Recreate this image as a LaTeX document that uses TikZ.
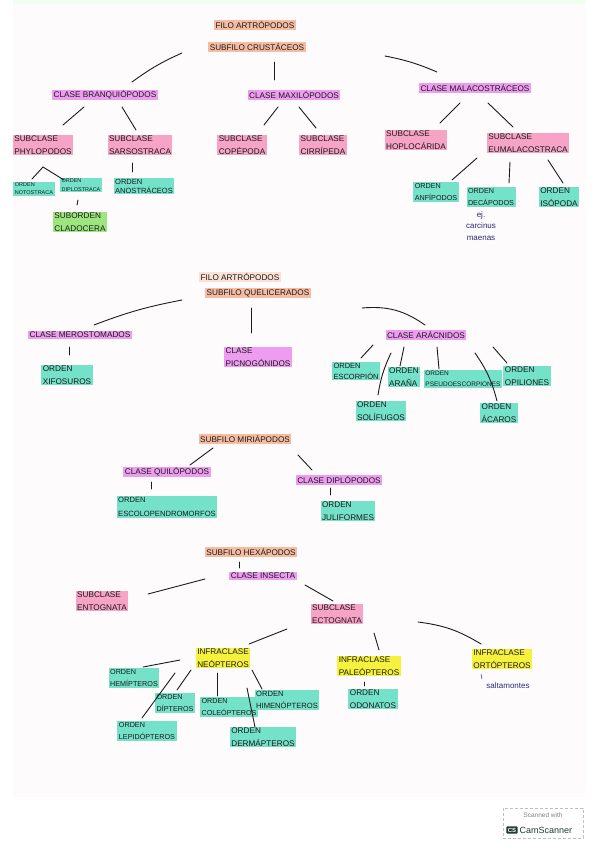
\documentclass[tikz,border=0pt]{standalone}
\usepackage{fontspec}
\setmainfont{Liberation Sans}
\usetikzlibrary{positioning,calc}
\definecolor{filo}{HTML}{F6BCA2}
\definecolor{clase}{HTML}{EE9CF0}
\definecolor{subclase}{HTML}{F7A3C6}
\definecolor{orden}{HTML}{74E2C8}
\definecolor{suborden}{HTML}{9DE67F}
\definecolor{infra}{HTML}{F5F13C}
\definecolor{tinta}{HTML}{1B1B1B}
\definecolor{boli}{HTML}{2A2A78}
\definecolor{papel}{HTML}{FEFBFC}
\definecolor{csgreen}{HTML}{1F3B33}

\tikzset{
  taxon/.style={font=\fontsize{8.2}{12.5}\selectfont, text=tinta, inner xsep=1.5pt, inner ysep=1pt, align=left},
  chica/.style={font=\fontsize{7.2}{12}\selectfont},
  filobox/.style={taxon, fill=filo},
  filolight/.style={taxon, fill=filo!45},
  clasebox/.style={taxon, fill=clase},
  subclasebox/.style={taxon, fill=subclase},
  ordenbox/.style={taxon, fill=orden},
  subordenbox/.style={taxon, fill=suborden},
  infrabox/.style={taxon, fill=infra},
  nota/.style={font=\fontsize{8}{11.5}\selectfont, text=boli, align=center, inner sep=0pt},
  rama/.style={draw=tinta, line width=0.9pt, line cap=round},
}

\begin{document}
\begin{tikzpicture}[x=1pt, y=-1pt]
  \useasboundingbox (0,0) rectangle (599,848);
  \fill[papel] (13,0) rectangle (586,797);
  \fill[green!6] (13,0) rectangle (586,4);

  % --- crustaceos ---
  \node[filobox] (filoA) at (255,25) {FILO ARTRÓPODOS};
  \node[filobox] (crust) at (257,47) {SUBFILO CRUSTÁCEOS};
  \node[clasebox] (branq) at (105,95) {CLASE BRANQUIÓPODOS};
  \node[clasebox] (maxil) at (294,95) {CLASE MAXILÓPODOS};
  \node[clasebox] (malac) at (475,88) {CLASE MALACOSTRÁCEOS};
  \node[subclasebox] (phylo) at (43,145) {SUBCLASE\\PHYLOPODOS};
  \node[subclasebox] (sarso) at (140,145) {SUBCLASE\\SARSOSTRACA};
  \node[subclasebox] (cope) at (242,145) {SUBCLASE\\COPÉPODA};
  \node[subclasebox] (cirri) at (323,145) {SUBCLASE\\CIRRÍPEDA};
  \node[subclasebox] (hoplo) at (416,140) {SUBCLASE\\HOPLOCÁRIDA};
  \node[subclasebox] (euma) at (528,143) {SUBCLASE\\EUMALACOSTRACA};
  \node[ordenbox, font=\fontsize{5.5}{8}\selectfont] (noto) at (34,189) {ORDEN\\NOTOSTRACA};
  \node[ordenbox, font=\fontsize{5.5}{9}\selectfont] (diplo) at (81,185) {ORDEN\\DIPLOSTRACA};
  \node[subordenbox] (clado) at (80,222) {SUBORDEN\\CLADOCERA};
  \node[ordenbox, font=\fontsize{7.5}{9}\selectfont] (anos) at (144,186) {ORDEN\\ANOSTRÁCEOS};
  \node[ordenbox, chica] (anfi) at (436,192) {ORDEN\\ANFÍPODOS};
  \node[ordenbox, chica] (deca) at (491,197) {ORDEN\\DECÁPODOS};
  \node[ordenbox] (iso) at (559,197) {ORDEN\\ISÓPODA};
  \node[nota] (ejemplo) at (481,226) {ej.\\carcinus\\maenas};

  \draw[rama] ($(crust)+(-75,6)$) to[bend right=6] ($(branq)+(27,-13)$);
  \draw[rama] ($(crust)+(17,15)$) -- ($(maxil)+(-20,-15)$);
  \draw[rama] ($(crust)+(128,9)$) to[bend left=6] ($(malac)+(-38,-16)$);
  \draw[rama] ($(branq)+(-21,12)$) -- ($(phylo)+(20,-20)$);
  \draw[rama] ($(branq)+(17,12)$) -- ($(sarso)+(-4,-15)$);
  \draw[rama] ($(maxil)+(-16,12)$) -- ($(cope)+(22,-20)$);
  \draw[rama] ($(maxil)+(5,12)$) -- ($(cirri)+(-7,-17)$);
  \draw[rama] ($(malac)+(-15,15)$) -- ($(hoplo)+(24,-17)$);
  \draw[rama] ($(malac)+(13,15)$) -- ($(euma)+(-15,-16)$);
  \draw[rama] ($(noto)+(-2,-10)$) -- ($(phylo)+(0,22)$) -- ($(diplo)+(-17,-5)$);
  \draw[rama] ($(diplo)+(-3,15)$) -- ($(clado)+(-3,-17)$);
  \draw[rama] ($(sarso)+(-8,18)$) -- ($(anos)+(-12,-14)$);
  \draw[rama] ($(euma)+(-51,15)$) -- ($(anfi)+(16,-12)$);
  \draw[rama] ($(euma)+(-18,19)$) -- ($(deca)+(18,-14)$);
  \draw[rama] ($(euma)+(20,17)$) -- ($(iso)+(4,-14)$);

  % --- quelicerados ---
  \node[filolight] (filoB) at (240,277) {FILO ARTRÓPODOS};
  \node[filobox] (quel) at (258,293) {SUBFILO QUELICERADOS};
  \node[clasebox] (mero) at (80,335) {CLASE MEROSTOMADOS};
  \node[clasebox] (picno) at (258,357) {CLASE\\PICNOGÓNIDOS};
  \node[clasebox] (arac) at (426,335) {CLASE ARÁCNIDOS};
  \node[ordenbox] (xifo) at (67,375) {ORDEN\\XIFOSUROS};
  \node[ordenbox, font=\fontsize{7.5}{11}\selectfont] (escor) at (356,371) {ORDEN\\ESCORPIÓN};
  \node[ordenbox] (arana) at (404,377) {ORDEN\\ARAÑA};
  \node[ordenbox, font=\fontsize{6.5}{11}\selectfont] (pseudo) at (463,379) {ORDEN\\PSEUDOESCORPIONES};
  \node[ordenbox] (opil) at (527,376) {ORDEN\\OPILIONES};
  \node[ordenbox] (soli) at (381,411) {ORDEN\\SOLÍFUGOS};
  \node[ordenbox] (acaro) at (499,413) {ORDEN\\ÁCAROS};

  \draw[rama] ($(quel)+(-76,7)$) to[bend right=5] ($(mero)+(14,-10)$);
  \draw[rama] ($(quel)+(-7,15)$) -- ($(picno)+(-7,-24)$);
  \draw[rama] ($(quel)+(104,15)$) to[bend left=20] ($(arac)+(-1,-10)$);
  \draw[rama] ($(mero)+(-11,12)$) -- ($(xifo)+(2,-20)$);
  \draw[rama] ($(arac)+(-53,10)$) -- ($(escor)+(5,-13)$);
  \draw[rama] ($(arac)+(-22,12)$) -- ($(arana)+(-4,-11)$);
  \draw[rama] ($(arac)+(11,12)$) -- ($(pseudo)+(-24,-10)$);
  \draw[rama] ($(arac)+(67,12)$) -- ($(opil)+(-20,-13)$);
  \draw[rama] ($(arac)+(-35,18)$) to[bend right=8] ($(soli)+(-3,-16)$);
  \draw[rama] ($(arac)+(49,18)$) to[bend left=10] ($(acaro)+(-2,-12)$);

  % --- miriapodos ---
  \node[filobox] (miri) at (245,439) {SUBFILO MIRIÁPODOS};
  \node[clasebox] (quil) at (167,472) {CLASE QUILÓPODOS};
  \node[clasebox] (dipl) at (339,480) {CLASE DIPLÓPODOS};
  \node[ordenbox, font=\fontsize{7.6}{14}\selectfont] (escol) at (167,507) {ORDEN\\ESCOLOPENDROMORFOS};
  \node[ordenbox] (juli) at (348,511) {ORDEN\\JULIFORMES};

  \draw[rama] ($(miri)+(-32,9)$) -- ($(quil)+(23,-7)$);
  \draw[rama] ($(miri)+(53,16)$) -- ($(dipl)+(-27,-10)$);
  \draw[rama] ($(quil)+(-16,10)$) -- ($(escol)+(-16,-18)$);
  \draw[rama] ($(dipl)+(-9,8)$) -- ($(juli)+(-18,-16)$);

  % --- hexapodos ---
  \node[filobox] (hexa) at (251,552) {SUBFILO HEXÁPODOS};
  \node[clasebox] (insecta) at (263,576) {CLASE INSECTA};
  \node[subclasebox] (ento) at (102,601) {SUBCLASE\\ENTOGNATA};
  \node[subclasebox] (ecto) at (337,614) {SUBCLASE\\ECTOGNATA};
  \node[infrabox] (neo) at (223,658) {INFRACLASE\\NEÓPTEROS};
  \node[infrabox] (pale) at (369,666) {INFRACLASE\\PALEÓPTEROS};
  \node[infrabox] (orto) at (502,659) {INFRACLASE\\ORTÓPTEROS};
  \node[nota] (salta) at (508,686) {saltamontes};
  \node[ordenbox, chica] (hemi) at (134,678) {ORDEN\\HEMÍPTEROS};
  \node[ordenbox, chica] (dipt) at (175,703) {ORDEN\\DÍPTEROS};
  \node[ordenbox, chica] (coleo) at (229,707) {ORDEN\\COLEÓPTEROS};
  \node[ordenbox, font=\fontsize{7.6}{12}\selectfont] (himen) at (287,700) {ORDEN\\HIMENÓPTEROS};
  \node[ordenbox, chica] (lepi) at (147,731) {ORDEN\\LEPIDÓPTEROS};
  \node[ordenbox] (derma) at (263,737) {ORDEN\\DERMÁPTEROS};
  \node[ordenbox] (odon) at (373,699) {ORDEN\\ODONATOS};

  \draw[rama] ($(hexa)+(-12,10)$) -- ($(insecta)+(-24,-8)$);
  \draw[rama] ($(insecta)+(-58,3)$) -- ($(ento)+(46,-7)$);
  \draw[rama] ($(insecta)+(42,9)$) -- ($(ecto)+(-4,-13)$);
  \draw[rama] ($(ecto)+(-50,15)$) -- ($(neo)+(26,-14)$);
  \draw[rama] ($(ecto)+(37,19)$) -- ($(pale)+(10,-16)$);
  \draw[rama] ($(ecto)+(81,8)$) to[bend left=12] ($(orto)+(-21,-15)$);
  \draw[rama] ($(neo)+(-43,2)$) -- ($(hemi)+(9,-11)$);
  \draw[rama] ($(neo)+(-32,12)$) -- ($(dipt)+(2,-13)$);
  \draw[rama] ($(neo)+(-6,15)$) -- ($(coleo)+(-12,-11)$);
  \draw[rama] ($(neo)+(29,12)$) -- ($(himen)+(-25,-11)$);
  \draw[rama] ($(neo)+(-48,15)$) -- ($(lepi)+(-5,-13)$);
  \draw[rama] ($(neo)+(24,30)$) -- ($(derma)+(-8,-10)$);
  \draw[rama] ($(pale)+(-5,16)$) -- ($(odon)+(-9,-13)$);
  \draw[boli, line width=0.5pt] ($(orto)+(-21,15)$) -- ($(salta)+(-26,-7)$);

  % --- sello del escaner ---
  \node[draw=gray!50, densely dashed, line width=0.4pt, minimum width=80pt, minimum height=30pt] (sello) at (543,823) {};
  \node[font=\fontsize{6.5}{7}\selectfont, text=gray] (scanned) at (543,815) {Scanned with};
  \node[fill=csgreen, text=white, font=\bfseries\fontsize{6}{7}\selectfont, rounded corners=1pt, inner sep=1.5pt] (cs) at (512,830) {CS};
  \node[right=1.5pt of cs, font=\fontsize{9}{10}\selectfont, text=csgreen, inner sep=0pt] (camsc) {CamScanner};
\end{tikzpicture}
\end{document}
